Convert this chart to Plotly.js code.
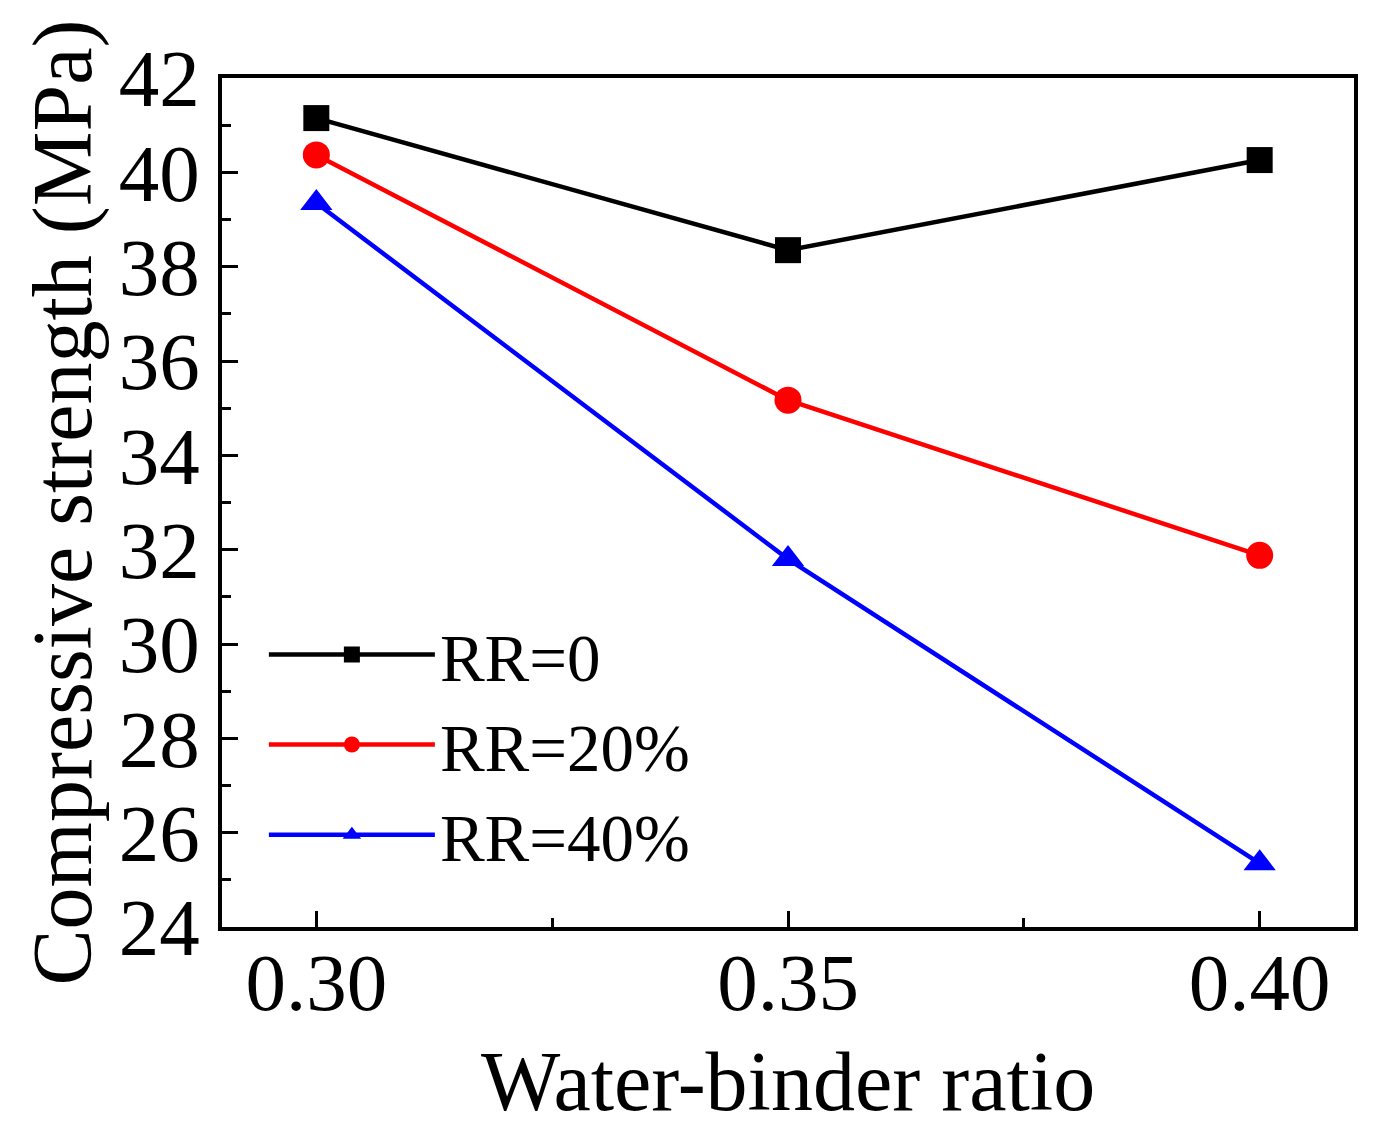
<!DOCTYPE html>
<html>
<head>
<meta charset="utf-8">
<script src="https://cdn.plot.ly/plotly-3.0.1.min.js"></script>
<style>
  html, body { margin: 0; padding: 0; background: #fff; }
  #chart { width: 1374px; height: 1128px; }
</style>
</head>
<body>
<div id="chart"></div>
<script>
const ratio = [0.30, 0.35, 0.40]
const rr0 = [41.15, 38.35, 40.26]
const rr20 = [40.37, 35.17, 31.88]
const rr40 = [39.35, 31.8, 25.35]
const names = ['RR=0', 'RR=20%', 'RR=40%']

const font = 'Liberation Serif, Times New Roman, serif'

function series(y, name, color, symbol, size) {
    return {
        x: ratio,
        y: y,
        type: 'scatter',
        mode: 'lines+markers',
        name: name,
        line: { color: color, width: 4.5 },
        marker: { color: color, symbol: symbol, size: size }
    }
}

const data = [
    series(rr0, names[0], '#000000', 'square', 26),
    series(rr20, names[1], '#ff0000', 'circle', 27),
    series(rr40, names[2], '#0000ff', 'triangle-up', 28)
]

const axisCommon = {
    showline: true,
    linewidth: 4,
    linecolor: '#000',
    mirror: true,
    ticks: 'inside',
    ticklen: 16,
    tickwidth: 3,
    tickcolor: '#000',
    showgrid: false,
    zeroline: false,
    tickfont: { family: font, size: 81, color: '#000' }
}

const layout = {
    width: 1374,
    height: 1128,
    margin: { l: 222, r: 20, t: 78, b: 201 },
    paper_bgcolor: '#fff',
    plot_bgcolor: '#fff',
    font: { family: font, color: '#000' },
    showlegend: true,
    legend: {
        x: 0.037,
        xanchor: 'left',
        y: 0.38,
        yanchor: 'top',
        bgcolor: 'rgba(0,0,0,0)',
        font: { family: font, size: 67, color: '#000' },
        itemwidth: 166
    },
    xaxis: Object.assign({}, axisCommon, {
        range: [0.29, 0.41],
        tick0: 0.3,
        dtick: 0.05,
        tickformat: '.2f',
        ticklabelstandoff: -18,
        minor: { dtick: 0.025, ticks: 'inside', ticklen: 9, tickwidth: 3, tickcolor: '#000', showgrid: false },
        title: { text: 'Water-binder ratio', font: { family: font, size: 84, color: '#000' }, standoff: 45 }
    }),
    yaxis: Object.assign({}, axisCommon, {
        range: [24, 42],
        dtick: 2,
        ticklabelstandoff: 2,
        minor: { dtick: 1, ticks: 'inside', ticklen: 9, tickwidth: 3, tickcolor: '#000', showgrid: false },
        title: { text: 'Compressive strength (MPa)', font: { family: font, size: 84, color: '#000' }, standoff: 0 }
    })
}

Plotly.newPlot('chart', data, layout, { displayModeBar: false, staticPlot: true })
</script>
</body>
</html>
